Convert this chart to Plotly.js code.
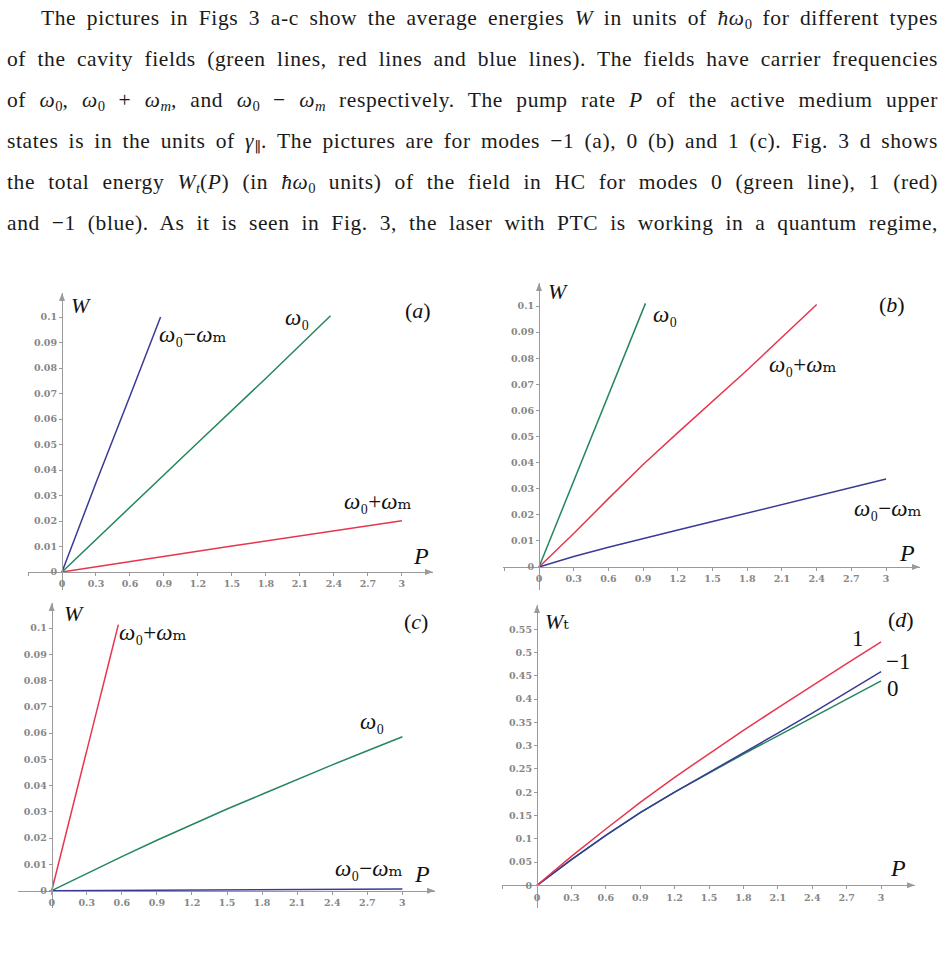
<!DOCTYPE html>
<html><head><meta charset="utf-8">
<script src="https://cdn.plot.ly/plotly-3.0.1.min.js"></script>
<style>
html,body{margin:0;padding:0;background:#fff;overflow:hidden;}
#chart{position:absolute;left:0;top:0;width:944px;height:958px;}
#para{position:absolute;left:0;top:0;width:944px;z-index:5;font-family:'Liberation Serif','DejaVu Serif',serif;font-size:21.5px;letter-spacing:0.6px;color:#1a1a1a;pointer-events:none;}
.ln{position:absolute;left:7px;width:931px;height:41px;line-height:41px;text-align:justify;text-align-last:justify;white-space:normal;}
.ln sub{font-size:68%;line-height:1;vertical-align:-0.3em;letter-spacing:0;}
</style></head><body>
<div id="chart"></div>
<div id="para">
<div class="ln" style="top:-2px;left:41px;width:897px">The pictures in Figs 3 a-c show the average energies <i>W</i> in units of <i>ħω</i><sub>0</sub> for different types</div>
<div class="ln" style="top:39px">of the cavity fields (green lines, red lines and blue lines). The fields have carrier frequencies</div>
<div class="ln" style="top:80px">of <i>ω</i><sub>0</sub>, <i>ω</i><sub>0</sub> + <i>ω<sub>m</sub></i>, and <i>ω</i><sub>0</sub> − <i>ω<sub>m</sub></i> respectively. The pump rate <i>P</i> of the active medium upper</div>
<div class="ln" style="top:121px">states is in the units of <i>γ</i><sub>∥</sub>. The pictures are for modes −1 (a), 0 (b) and 1 (c). Fig. 3 d shows</div>
<div class="ln" style="top:162px">the total energy <i>W<sub>t</sub></i>(<i>P</i>) (in <i>ħω</i><sub>0</sub> units) of the field in HC for modes 0 (green line), 1 (red)</div>
<div class="ln" style="top:203px">and −1 (blue). As it is seen in Fig. 3, the laser with PTC is working in a quantum regime,</div>
</div>
<script>
// ---------- data ----------
// Panel (a): mode -1
const P_a_minus = [0, 0.3, 0.6, 0.87];
const W_a_minus = [0, 0.035, 0.069, 0.1];
const P_a_zero  = [0, 0.6, 1.2, 1.8, 2.37];
const W_a_zero  = [0, 0.0255, 0.0508, 0.0760, 0.1005];
const P_a_plus  = [0, 1.5, 3];
const W_a_plus  = [0, 0.0102, 0.0201];
// Panel (b): mode 0
const P_b_zero  = [0, 0.3, 0.6, 0.92];
const W_b_zero  = [0, 0.033, 0.066, 0.101];
const P_b_plus  = [0, 0.3, 0.6, 0.9, 1.2, 1.5, 1.8, 2.1, 2.4];
const W_b_plus  = [0, 0.0128, 0.0262, 0.0393, 0.0515, 0.0635, 0.0755, 0.0880, 0.1006];
const P_b_minus = [0, 0.3, 0.6, 0.9, 1.2, 1.5, 1.8, 2.1, 2.4, 2.7, 3];
const W_b_minus = [0, 0.0040, 0.0076, 0.0110, 0.0142, 0.0174, 0.0206, 0.0238, 0.0273, 0.0305, 0.0337];
// Panel (c): mode 1
const P_c_plus  = [0, 0.3, 0.57];
const W_c_plus  = [0, 0.053, 0.1013];
const P_c_zero  = [0, 0.3, 0.6, 0.9, 1.2, 1.5, 1.8, 2.1, 2.4, 2.7, 3];
const W_c_zero  = [0, 0.0066, 0.0130, 0.0192, 0.0253, 0.0311, 0.0367, 0.0424, 0.0479, 0.0533, 0.0586];
const P_c_minus = [0, 1.5, 3];
const W_c_minus = [0, 0.0003, 0.0006];
// Panel (d): total energy
const P_d       = [0, 0.3, 0.6, 0.9, 1.2, 1.5, 1.8, 2.1, 2.4, 2.7, 3];
const Wt_mode1  = [0, 0.062, 0.121, 0.178, 0.232, 0.283, 0.333, 0.381, 0.429, 0.476, 0.523];
const Wt_modeM1 = [0, 0.055, 0.107, 0.156, 0.200, 0.242, 0.285, 0.327, 0.370, 0.414, 0.459];
const Wt_mode0  = [0, 0.055, 0.107, 0.156, 0.200, 0.241, 0.282, 0.321, 0.360, 0.400, 0.439];

// ---------- ticks ----------
const xTickVals = [0, 0.3, 0.6, 0.9, 1.2, 1.5, 1.8, 2.1, 2.4, 2.7, 3];
const xTickText = ['0', '0.3', '0.6', '0.9', '1.2', '1.5', '1.8', '2.1', '2.4', '2.7', '3'];
const xMinorTickVals = [-0.3];
const yTickValsW = [0, 0.01, 0.02, 0.03, 0.04, 0.05, 0.06, 0.07, 0.08, 0.09, 0.1];
const yTickTextW = ['0', '0.01', '0.02', '0.03', '0.04', '0.05', '0.06', '0.07', '0.08', '0.09', '0.1'];
const yTickValsWt = [0, 0.05, 0.1, 0.15, 0.2, 0.25, 0.3, 0.35, 0.4, 0.45, 0.5, 0.55];
const yTickTextWt = ['0', '0.05', '0.1', '0.15', '0.2', '0.25', '0.3', '0.35', '0.4', '0.45', '0.5', '0.55'];

// ---------- styling / geometry ----------
const W = 944, H = 958;
const GREEN = '#24875c', RED = '#e8354f', BLUE = '#3a3a96';
const AX = '#9a9a9a';
const SERIF = "'Liberation Serif','DejaVu Serif',serif";
// pixel geometry of each panel: origin, px per unit, axis extents
const panels = [
  {ox: 62,  oy: 572,   sx: 113.3, sy: 2550,  xl: 28,  xr: 433, yt: 293, yb: 590, yv: yTickValsW,  yt_: yTickTextW},
  {ox: 539, oy: 567,   sx: 115.7, sy: 2610,  xl: 503, xr: 920, yt: 283, yb: 590, yv: yTickValsW,  yt_: yTickTextW},
  {ox: 51.7,oy: 890.7, sx: 116.9, sy: 2627,  xl: 18,  xr: 435, yt: 603, yb: 908, yv: yTickValsW,  yt_: yTickTextW},
  {ox: 537, oy: 885.3, sx: 114.7, sy: 465.5, xl: 502, xr: 915, yt: 605, yb: 908, yv: yTickValsWt, yt_: yTickTextWt}
];

const traces = [];
function line(x, y, color, k) {
  traces.push({x: x, y: y, type: 'scatter', mode: 'lines', line: {color: color, width: 1.5},
    xaxis: 'x' + (k === 1 ? '' : k), yaxis: 'y' + (k === 1 ? '' : k), hoverinfo: 'skip', showlegend: false});
}
line(P_a_minus, W_a_minus, BLUE, 1);
line(P_a_zero, W_a_zero, GREEN, 1);
line(P_a_plus, W_a_plus, RED, 1);
line(P_b_zero, W_b_zero, GREEN, 2);
line(P_b_plus, W_b_plus, RED, 2);
line(P_b_minus, W_b_minus, BLUE, 2);
line(P_c_plus, W_c_plus, RED, 3);
line(P_c_zero, W_c_zero, GREEN, 3);
line(P_c_minus, W_c_minus, BLUE, 3);
line(P_d, Wt_mode0, GREEN, 4);
line(P_d, Wt_modeM1, BLUE, 4);
line(P_d, Wt_mode1, RED, 4);

const layout = {
  width: W, height: H, margin: {l: 0, r: 0, t: 0, b: 0},
  paper_bgcolor: 'rgba(0,0,0,0)', plot_bgcolor: 'rgba(0,0,0,0)',
  showlegend: false, annotations: [], shapes: []
};
const tickFont = {family: "'DejaVu Serif',serif", size: 9.5, color: '#868686', weight: 'bold'};
panels.forEach((p, i) => {
  const k = i + 1, s = k === 1 ? '' : String(k);
  layout['xaxis' + s] = {
    domain: [p.xl / W, p.xr / W], range: [(p.xl - p.ox) / p.sx, (p.xr - p.ox) / p.sx],
    anchor: 'free', position: (H - p.oy) / H, side: 'bottom',
    showline: true, linecolor: AX, linewidth: 1, showgrid: false, zeroline: false,
    ticks: 'outside', ticklen: 3, tickcolor: AX, tickvals: xTickVals, ticktext: xTickText,
    minor: {tickvals: xMinorTickVals, ticks: 'outside', ticklen: 3, tickcolor: AX, showgrid: false},
    tickfont: tickFont, automargin: false, fixedrange: true
  };
  layout['yaxis' + s] = {
    domain: [(H - p.yb) / H, (H - p.yt) / H], range: [(p.oy - p.yb) / p.sy, (p.oy - p.yt) / p.sy],
    anchor: 'free', position: p.ox / W, side: 'left',
    showline: true, linecolor: AX, linewidth: 1, showgrid: false, zeroline: false,
    ticks: 'outside', ticklen: 3, tickcolor: AX, tickvals: p.yv, ticktext: p.yt_,
    tickfont: tickFont, automargin: false, fixedrange: true
  };
  // arrowheads at the axis ends (filled triangles)
  const tx = p.xr / W, ty = (H - p.oy) / H, L = 8 / W, hw = 3 / H;
  layout.shapes.push({type: 'path', xref: 'paper', yref: 'paper', fillcolor: AX, line: {width: 0},
    path: `M${tx},${ty} L${tx - L},${ty + hw} L${tx - L},${ty - hw} Z`});
  const ux = p.ox / W, uy = (H - p.yt) / H, Ly = 8 / H, hx = 3 / W;
  layout.shapes.push({type: 'path', xref: 'paper', yref: 'paper', fillcolor: AX, line: {width: 0},
    path: `M${ux},${uy} L${ux - hx},${uy - Ly} L${ux + hx},${uy - Ly} Z`});
});

const LBL = {family: SERIF, size: 22, color: '#111'};
function lab(k, x, y, text, size) {
  const s = k === 1 ? '' : String(k);
  layout.annotations.push({xref: 'x' + s, yref: 'y' + s, x: x, y: y, text: text, showarrow: false,
    font: Object.assign({}, LBL, size ? {size: size} : {}), xanchor: 'center', yanchor: 'middle'});
}
const wMinus = '<i>ω</i>₀−<i>ω</i>ₘ';
const wPlus = '<i>ω</i>₀+<i>ω</i>ₘ';
const wZero = '<i>ω</i>₀';
// (a)
lab(1, 0.17, 0.1047, '<i>W</i>');
lab(1, 3.14, 0.1027, '(<i>a</i>)');
lab(1, 2.07, 0.1000, wZero, 23);
lab(1, 1.16, 0.0930, wMinus, 23);
lab(1, 2.79, 0.0275, wPlus, 23);
lab(1, 3.17, 0.0063, '<i>P</i>', 24);
// (b)
lab(2, 0.16, 0.1054, '<i>W</i>');
lab(2, 3.05, 0.1004, '(<i>b</i>)');
lab(2, 1.09, 0.0966, wZero, 23);
lab(2, 2.28, 0.0774, wPlus, 23);
lab(2, 3.02, 0.0226, wMinus, 23);
lab(2, 3.18, 0.0054, '<i>P</i>', 24);
// (c)
lab(3, 0.19, 0.1054, '<i>W</i>');
lab(3, 3.12, 0.1024, '(<i>c</i>)');
lab(3, 0.87, 0.0981, wPlus, 23);
lab(3, 2.74, 0.0643, wZero, 23);
lab(3, 2.71, 0.0086, wMinus, 23);
lab(3, 3.17, 0.0064, '<i>P</i>', 24);
// (d)
lab(4, 0.17, 0.566, '<i>W</i>ₜ');
lab(4, 3.17, 0.572, '(<i>d</i>)');
lab(4, 2.80, 0.531, '1', 23);
lab(4, 3.15, 0.480, '−1', 23);
lab(4, 3.10, 0.422, '0', 23);
lab(4, 3.15, 0.037, '<i>P</i>', 24);

Plotly.newPlot('chart', traces, layout, {staticPlot: true, displayModeBar: false});
</script>
</body></html>
